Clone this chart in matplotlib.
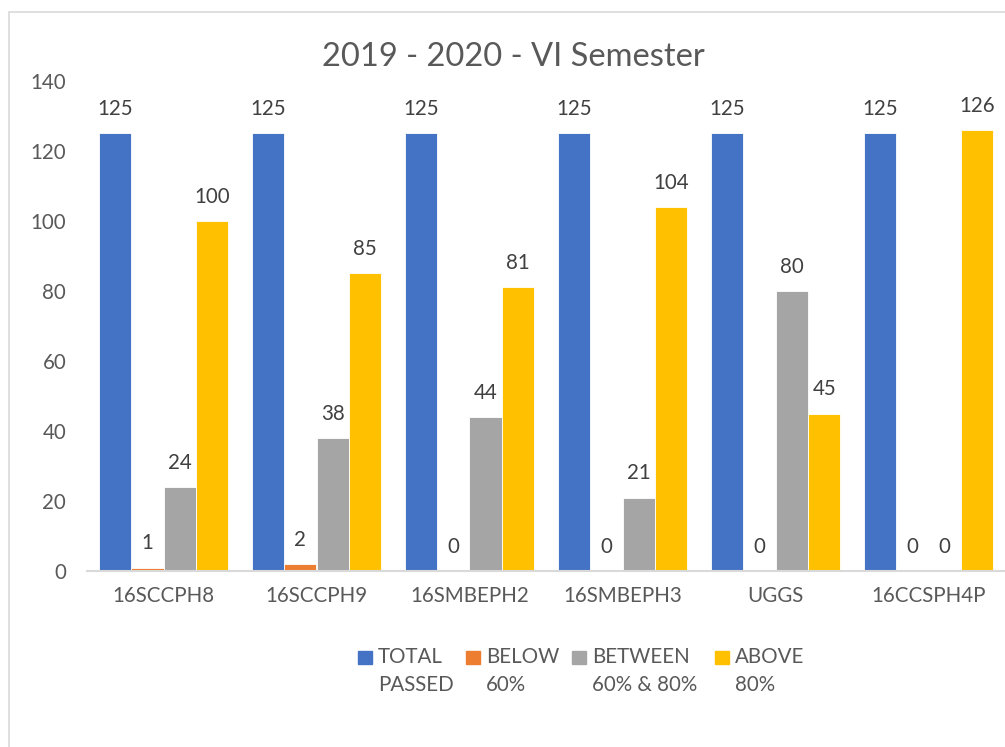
import numpy as np
import matplotlib
matplotlib.use('Agg')
import matplotlib.pyplot as plt
from matplotlib.patches import Rectangle

# ----------------------------------------------------------------
# Data
# ----------------------------------------------------------------
courses = ['16SCCPH8', '16SCCPH9', '16SMBEPH2', '16SMBEPH3', 'UGGS', '16CCSPH4P']
total_passed = [125, 125, 125, 125, 125, 125]
below_60 = [1, 2, 0, 0, 0, 0]
between_60_80 = [24, 38, 44, 21, 80, 0]
above_80 = [100, 85, 81, 104, 45, 126]

series_labels = ['TOTAL\nPASSED', 'BELOW\n60%', 'BETWEEN\n60% & 80%', 'ABOVE\n80%']
series_colors = ['#4472C4', '#ED7D31', '#A5A5A5', '#FFC000']
yticks = [0, 20, 40, 60, 80, 100, 120, 140]

TEXT = '#595959'
FS = 14.8
plt.rcParams['font.family'] = ['Lato', 'DejaVu Sans']

# ----------------------------------------------------------------
# Figure
# ----------------------------------------------------------------
W, H = 1005, 747
fig = plt.figure(figsize=(W / 100, H / 100), dpi=100)

# chart border (Excel chart area), only left and top edges fall inside the image
fig.patches.append(Rectangle((9 / W, -0.2), 1.2, 1.2 - 12 / H, transform=fig.transFigure,
                             fill=False, edgecolor='#d9d9d9', lw=1.2))

ax = fig.add_axes([87 / W, 1 - 571 / H, (1005 - 87) / W, 490 / H])

series = [total_passed, below_60, between_60_80, above_80]
x = np.arange(len(courses))
bw = 0.2124
for i, (vals, col) in enumerate(zip(series, series_colors)):
    pos = x + (i - 1.5) * bw
    bars = ax.bar(pos, vals, bw, color=col, edgecolor='white', lw=0.6, zorder=2)
    for b, v in zip(bars, vals):
        ax.annotate(str(v), (b.get_x() + b.get_width() / 2, v),
                    xytext=(0, 13), textcoords='offset points',
                    ha='center', va='baseline', fontsize=FS, color='#404040')

ax.set_xlim(-0.5, len(courses) - 0.5)
ax.set_ylim(0, 140)
ax.set_yticks(yticks)
ax.set_xticks(x)
ax.set_xticklabels(courses)
ax.tick_params(axis='both', length=0, labelsize=FS, labelcolor=TEXT)
ax.tick_params(axis='x', pad=11)
ax.tick_params(axis='y', pad=15)
for s in ['top', 'right', 'left']:
    ax.spines[s].set_visible(False)
ax.spines['bottom'].set_color('#d9d9d9')
ax.spines['bottom'].set_linewidth(1.5)

fig.text(513 / W, 1 - 57 / H, '2019 - 2020 - VI Semester', ha='center', va='center',
         fontsize=23.5, color=TEXT)

# legend drawn manually so the squares sit on the first text line
leg_x = [358, 466, 572, 715]
for lx, lab, col in zip(leg_x, series_labels, series_colors):
    fig.patches.append(Rectangle((lx / W, 1 - 664 / H), 14 / W, 13 / H,
                                 transform=fig.transFigure, color=col))
    fig.text((lx + 20) / W, 1 - 647 / H, lab, ha='left', va='top',
             fontsize=FS, color=TEXT, linespacing=1.5)

plt.savefig('out.png', dpi=100)
